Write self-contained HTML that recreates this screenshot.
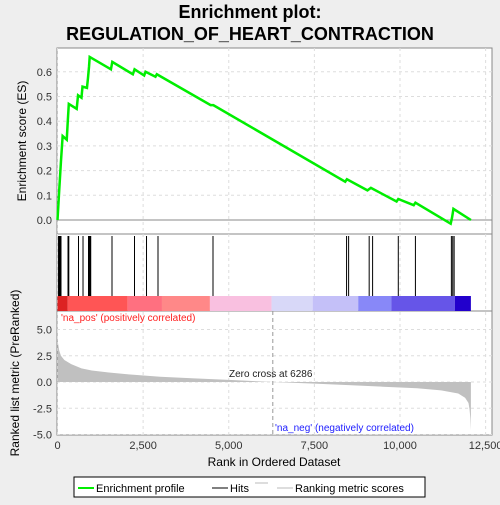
<!DOCTYPE html>
<html><head><meta charset="utf-8"><style>
body{margin:0;background:#eeeeee;}
svg{font-family:"Liberation Sans",sans-serif;}
</style></head><body>
<svg width="500" height="500" xmlns="http://www.w3.org/2000/svg" id="chart">
<text x="250" y="18" text-anchor="middle" font-size="18" font-weight="bold">Enrichment plot:</text>
<text x="250" y="40" text-anchor="middle" font-size="18" font-weight="bold">REGULATION_OF_HEART_CONTRACTION</text>
<rect x="57" y="48" width="435" height="387" fill="#fff" stroke="#888"/>
<line x1="57" y1="234" x2="492" y2="234" stroke="#888"/>
<line x1="57" y1="311" x2="492" y2="311" stroke="#888"/>
<g id="grid"></g>
<g id="colorbar"></g>
<g id="hits"></g>
<g id="metric"></g>
<g id="es"></g>
<g id="axes" font-size="11" fill="#333"></g>
<text transform="translate(26,141) rotate(-90)" text-anchor="middle" font-size="12">Enrichment score (ES)</text>
<text transform="translate(19,373) rotate(-90)" text-anchor="middle" font-size="12">Ranked list metric (PreRanked)</text>
<text x="274" y="466" text-anchor="middle" font-size="12">Rank in Ordered Dataset</text>
<text x="61" y="321" font-size="10" fill="#ff2020">'na_pos' (positively correlated)</text>
<text x="275" y="431" font-size="10" fill="#2020ff">'na_neg' (negatively correlated)</text>
<text x="229" y="377" font-size="10" fill="#222">Zero cross at 6286</text>
<g>
<rect x="74" y="477" width="351" height="20" fill="#fff" stroke="#000"/>
<line x1="78" y1="488" x2="94" y2="488" stroke="#00ee00" stroke-width="2"/>
<text x="96" y="492" font-size="11">Enrichment profile</text>
<line x1="212" y1="488" x2="228" y2="488" stroke="#000"/>
<text x="230" y="492" font-size="11">Hits</text>
<line x1="255" y1="483" x2="268" y2="483" stroke="#bbb"/>
<line x1="277" y1="488" x2="293" y2="488" stroke="#bbb"/>
<text x="295" y="492" font-size="11">Ranking metric scores</text>
</g>
</svg>
<script>
const esRanks=[0,50,100,150,270,300,330,560,600,700,730,860,890,920,940,1560,1600,2200,2250,2530,2570,2860,2900,4470,4550,8400,8450,9050,9150,9900,9950,10400,10450,11480,11520,11560,12070];
const esValues=[0,0.12,0.235,0.34,0.325,0.40,0.47,0.45,0.505,0.495,0.54,0.535,0.575,0.62,0.66,0.61,0.64,0.59,0.61,0.585,0.60,0.58,0.59,0.465,0.465,0.155,0.165,0.12,0.13,0.075,0.085,0.06,0.07,-0.015,0.01,0.045,0.0];
const hitRanks=[30,58,80,102,307,330,613,745,905,930,950,970,1591,2248,2599,2934,4540,8440,8500,9100,9200,9950,10450,11500,11540,11580];
const metricRanks=[0,50,100,200,400,700,1000,1500,2000,3000,4000,5000,6286,7500,8500,9500,10500,11200,11700,11900,12000,12030,12055,12070];
const metricValues=[4.0,3.0,2.5,2.1,1.7,1.3,1.1,0.9,0.75,0.5,0.35,0.2,0,-0.15,-0.3,-0.45,-0.6,-0.8,-1.1,-1.5,-2.0,-2.6,-3.5,-4.6];
const esTicks=[0,0.1,0.2,0.3,0.4,0.5,0.6];
const metricTicks=[-5,-2.5,0,2.5,5];
const xTicks=[0,2500,5000,7500,10000,12500];
const barRanks=[0,300,2050,3050,4450,6250,7450,8780,9750,11600,12070];
const barColors=["#dd2222","#ff5555","#ff7080","#ff8888","#f9c0e0","#d8d8f8","#c4c0f8","#8888f8","#6655e8","#2200cc"];
const NS="http://www.w3.org/2000/svg";
const X=r=>57.5+r*0.03425;
const YE=v=>220-v*247;
const YM=v=>382-v*10.5;
function mk(tag,attrs,parent){const e=document.createElementNS(NS,tag);for(const k in attrs)e.setAttribute(k,attrs[k]);document.getElementById(parent).appendChild(e);return e;}
xTicks.forEach(t=>{
 const l=mk('line',{x1:X(t),x2:X(t),y1:48,y2:435,stroke:'#ddd','stroke-dasharray':'3,3'},'grid');
 
 
 const tx=mk('text',{x:X(t),y:449,'text-anchor':'middle'},'axes');tx.textContent=t.toLocaleString('en-US');
 
 
});
esTicks.forEach(t=>{
 const l=mk('line',{x1:57,x2:492,y1:YE(t),y2:YE(t),stroke:'#ddd','stroke-dasharray':'3,3'},'grid');
 
 
 const tx=mk('text',{x:52,y:YE(t)+4,'text-anchor':'end'},'axes');tx.textContent=t.toFixed(1);
 
 
});
metricTicks.forEach(t=>{
 const l=mk('line',{x1:57,x2:492,y1:YM(t),y2:YM(t),stroke:'#ddd','stroke-dasharray':'3,3'},'grid');
 
 
 const tx=mk('text',{x:52,y:YM(t)+4,'text-anchor':'end'},'axes');tx.textContent=t.toFixed(1);
 
 
});
const z=mk('line',{x1:57,x2:492,y1:YE(0),y2:YE(0),stroke:'#888'},'grid');


const zc=mk('line',{x1:X(6286),x2:X(6286),y1:311,y2:435,stroke:'#999','stroke-dasharray':'4,3'},'grid');


barColors.forEach((c,i)=>{
 const r=mk('rect',{x:X(barRanks[i]),y:296,width:X(barRanks[i+1])-X(barRanks[i]),height:15,fill:c},'colorbar');
 
 
});
hitRanks.forEach(h=>{
 const l=mk('line',{x1:X(h),x2:X(h),y1:236,y2:296,stroke:'#000','stroke-width':1},'hits');
 
 
});
let p='M'+X(0)+','+YM(0);
metricRanks.forEach((r,i)=>{p+=' L'+X(r)+','+YM(metricValues[i]);});
p+=' L'+X(metricRanks[metricRanks.length-1])+','+YM(0)+' Z';
const ma=mk('path',{d:p,fill:'#c0c0c0',stroke:'none'},'metric');


const pts=esRanks.map((r,i)=>X(r)+','+YE(esValues[i])).join(' ');
const es=mk('polyline',{points:pts,fill:'none',stroke:'#00ee00','stroke-width':2.5},'es');


</script>
</body></html>
